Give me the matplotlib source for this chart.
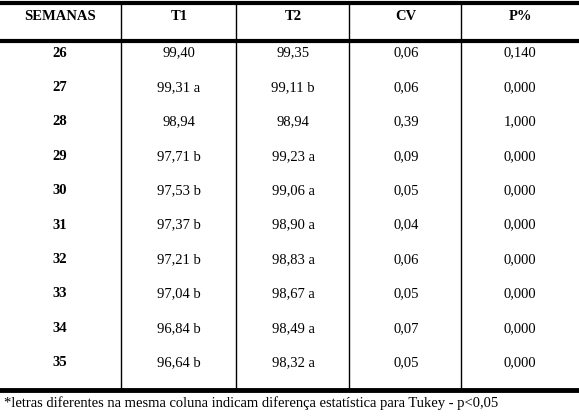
import matplotlib
matplotlib.use("Agg")
import matplotlib.pyplot as plt

header = ["SEMANAS", "T1", "T2", "CV", "P%"]
semanas = ["26","27","28","29","30","31","32","33","34","35"]
t1 = ["99,40","99,31 a","98,94","97,71 b","97,53 b","97,37 b","97,21 b","97,04 b","96,84 b","96,64 b"]
t2 = ["99,35","99,11 b","98,94","99,23 a","99,06 a","98,90 a","98,83 a","98,67 a","98,49 a","98,32 a"]
cv = ["0,06","0,06","0,39","0,09","0,05","0,04","0,06","0,05","0,07","0,05"]
p = ["0,140","0,000","1,000","0,000","0,000","0,000","0,000","0,000","0,000","0,000"]
note = "*letras diferentes na mesma coluna indicam diferença estatística para Tukey - p<0,05"

W, H = 579, 417
fig = plt.figure(figsize=(W/100, H/100), dpi=100)
ax = fig.add_axes([0, 0, 1, 1])
ax.set_xlim(0, W); ax.set_ylim(H, 0); ax.axis("off")

font = "Liberation Serif"
centers = [60, 179, 293, 406, 520]
dividers = [121, 236, 349, 461]
top, hline, bottom = 3, 41, 390

ax.plot([0, W], [top, top], color="black", lw=3)
ax.plot([0, W], [hline, hline], color="black", lw=3)
ax.plot([0, W], [bottom, bottom], color="black", lw=3.5)
for x in dividers:
    ax.plot([x, x], [top, bottom], color="black", lw=1)

for c, h in zip(centers, header):
    ax.text(c, 16, h, ha="center", va="center", fontsize=10.5, fontweight="bold", family=font)

cols = [semanas, t1, t2, cv, p]
for i in range(len(semanas)):
    y = 53 + i * 34.4
    for j, col in enumerate(cols):
        ax.text(centers[j], y, col[i], ha="center", va="center", fontsize=10.5,
                fontweight="bold" if j == 0 else "normal", family=font)

ax.text(4, 403, note, ha="left", va="center", fontsize=10.5, family=font)
fig.savefig("out.png", dpi=100)
